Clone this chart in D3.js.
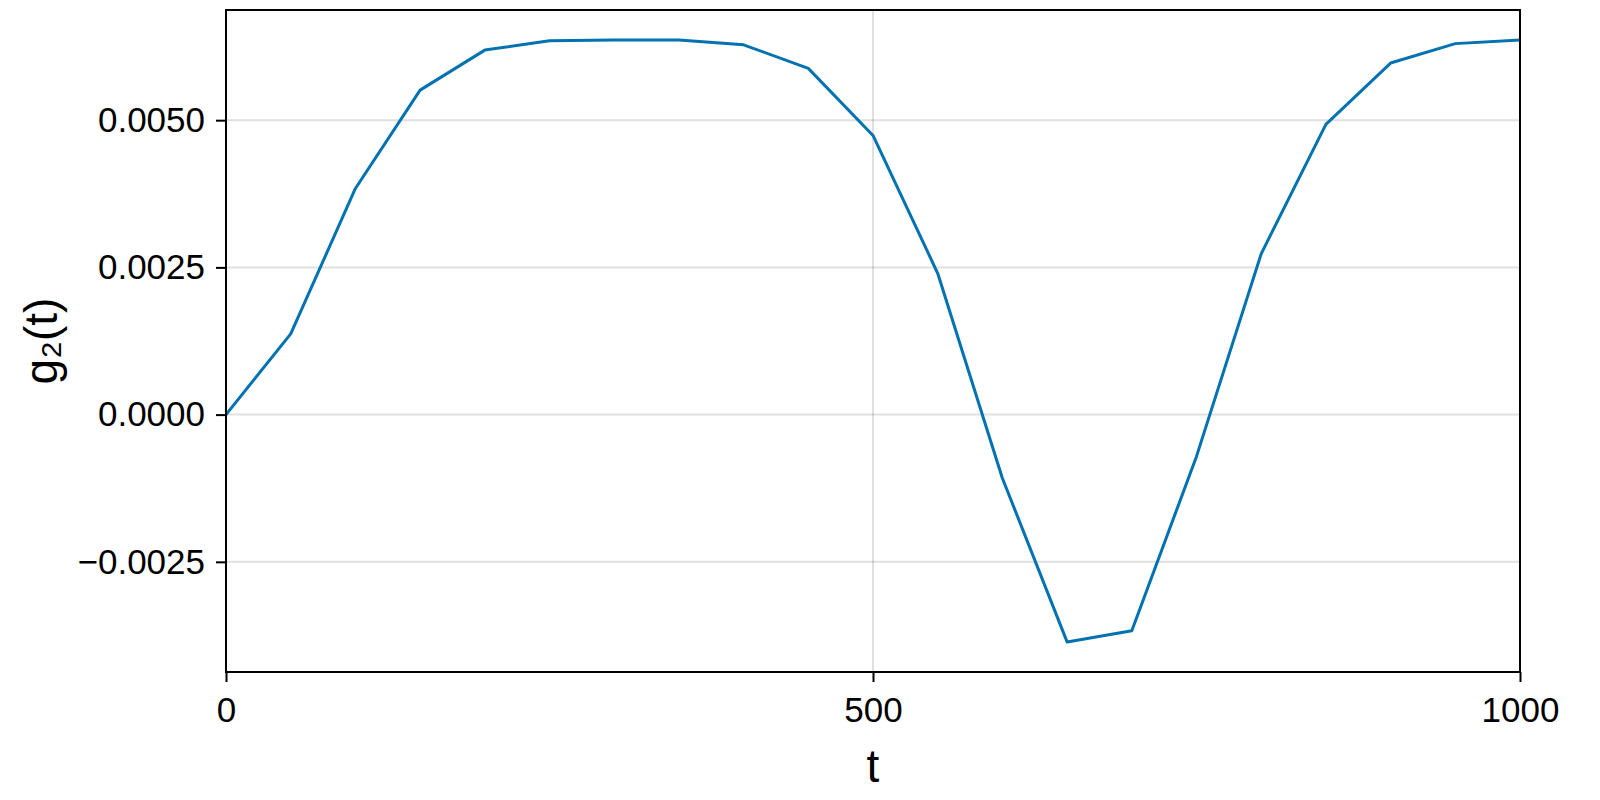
<!DOCTYPE html>
<html>
<head>
<meta charset="utf-8">
<script src="https://cdn.jsdelivr.net/npm/d3@7"></script>
<style>
  body { margin: 0; background: #fff; }
  text { font-family: "Liberation Sans", Arial, sans-serif; fill: #000; }
</style>
</head>
<body>
<script>
// sampled g2(t), every 50 time units
var tValues = [0, 50, 100, 150, 200, 250, 300, 350, 400, 450, 500,
               550, 600, 650, 700, 750, 800, 850, 900, 950, 1000]
var g2Values = [0.0000, 0.00137, 0.00384, 0.00551, 0.00619, 0.00635, 0.00636,
                0.00636, 0.00628, 0.00588, 0.00474, 0.00240, -0.00108, -0.00386,
                -0.00367, -0.00071, 0.00273, 0.00493, 0.00597, 0.00630, 0.00636]
var xTicks = [0, 500, 1000]
var yTicks = [-0.0025, 0, 0.0025, 0.005]

var width = 1600, height = 800
// note: "top" is a reserved window global, so use plot* names
var plotL = 226, plotR = 1520, plotT = 10, plotB = 672

var svg = d3.select("body").append("svg")
  .attr("width", width)
  .attr("height", height)

svg.append("rect").attr("width", width).attr("height", height).attr("fill", "#fff")

// makie-style 5% padding on y
var ymin = d3.min(g2Values), ymax = d3.max(g2Values)
var pad = (ymax - ymin) * 0.05

var x = d3.scaleLinear().domain([0, 1000]).range([plotL, plotR])
var y = d3.scaleLinear().domain([ymin - pad, ymax + pad]).range([plotB, plotT])

// grid
svg.append("g").selectAll("line")
  .data(yTicks).enter()
  .append("line")
  .attr("x1", plotL).attr("x2", plotR)
  .attr("y1", function(d) {return y(d)})
  .attr("y2", function(d) {return y(d)})
  .attr("stroke", "#000").attr("stroke-opacity", 0.12).attr("stroke-width", 2)

svg.append("g").selectAll("line")
  .data(xTicks).enter()
  .append("line")
  .attr("y1", plotT).attr("y2", plotB)
  .attr("x1", function(d) {return x(d)})
  .attr("x2", function(d) {return x(d)})
  .attr("stroke", "#000").attr("stroke-opacity", 0.12).attr("stroke-width", 2)

// the curve
var pts = tValues.map(function(t, i) {return [t, g2Values[i]]})
svg.append("path")
  .datum(pts)
  .attr("fill", "none")
  .attr("stroke", "#0072b2")
  .attr("stroke-width", 3)
  .attr("stroke-linejoin", "round")
  .attr("d", d3.line()
    .x(function(d) {return x(d[0])})
    .y(function(d) {return y(d[1])}))

// axes
var xAxis = svg.append("g")
  .attr("transform", "translate(0," + plotB + ")")
  .call(d3.axisBottom(x).tickValues(xTicks).tickFormat(d3.format("d"))
    .tickSize(10).tickPadding(15).tickSizeOuter(0))
var yAxis = svg.append("g")
  .attr("transform", "translate(" + plotL + ",0)")
  .call(d3.axisLeft(y).tickValues(yTicks).tickFormat(d3.format(".4f"))
    .tickSize(10).tickPadding(11).tickSizeOuter(0))

;[xAxis, yAxis].forEach(function(a) {
  a.select(".domain").remove()
  a.selectAll(".tick line").attr("stroke", "#000").attr("stroke-width", 2)
  a.selectAll(".tick text").attr("font-size", "35px")
    .attr("font-family", "Liberation Sans, Arial, sans-serif").attr("fill", "#000")
})

// frame
svg.append("rect")
  .attr("x", plotL).attr("y", plotT)
  .attr("width", plotR - plotL).attr("height", plotB - plotT)
  .attr("fill", "none").attr("stroke", "#000").attr("stroke-width", 2)

// labels
svg.append("text")
  .attr("x", (plotL + plotR) / 2).attr("y", 782)
  .attr("text-anchor", "middle")
  .attr("font-size", "46px")
  .text("t")

svg.append("text")
  .attr("transform", "translate(57," + (plotT + plotB) / 2 + ") rotate(-90)")
  .attr("text-anchor", "middle")
  .attr("font-size", "46px")
  .text("g₂(t)")
</script>
</body>
</html>
